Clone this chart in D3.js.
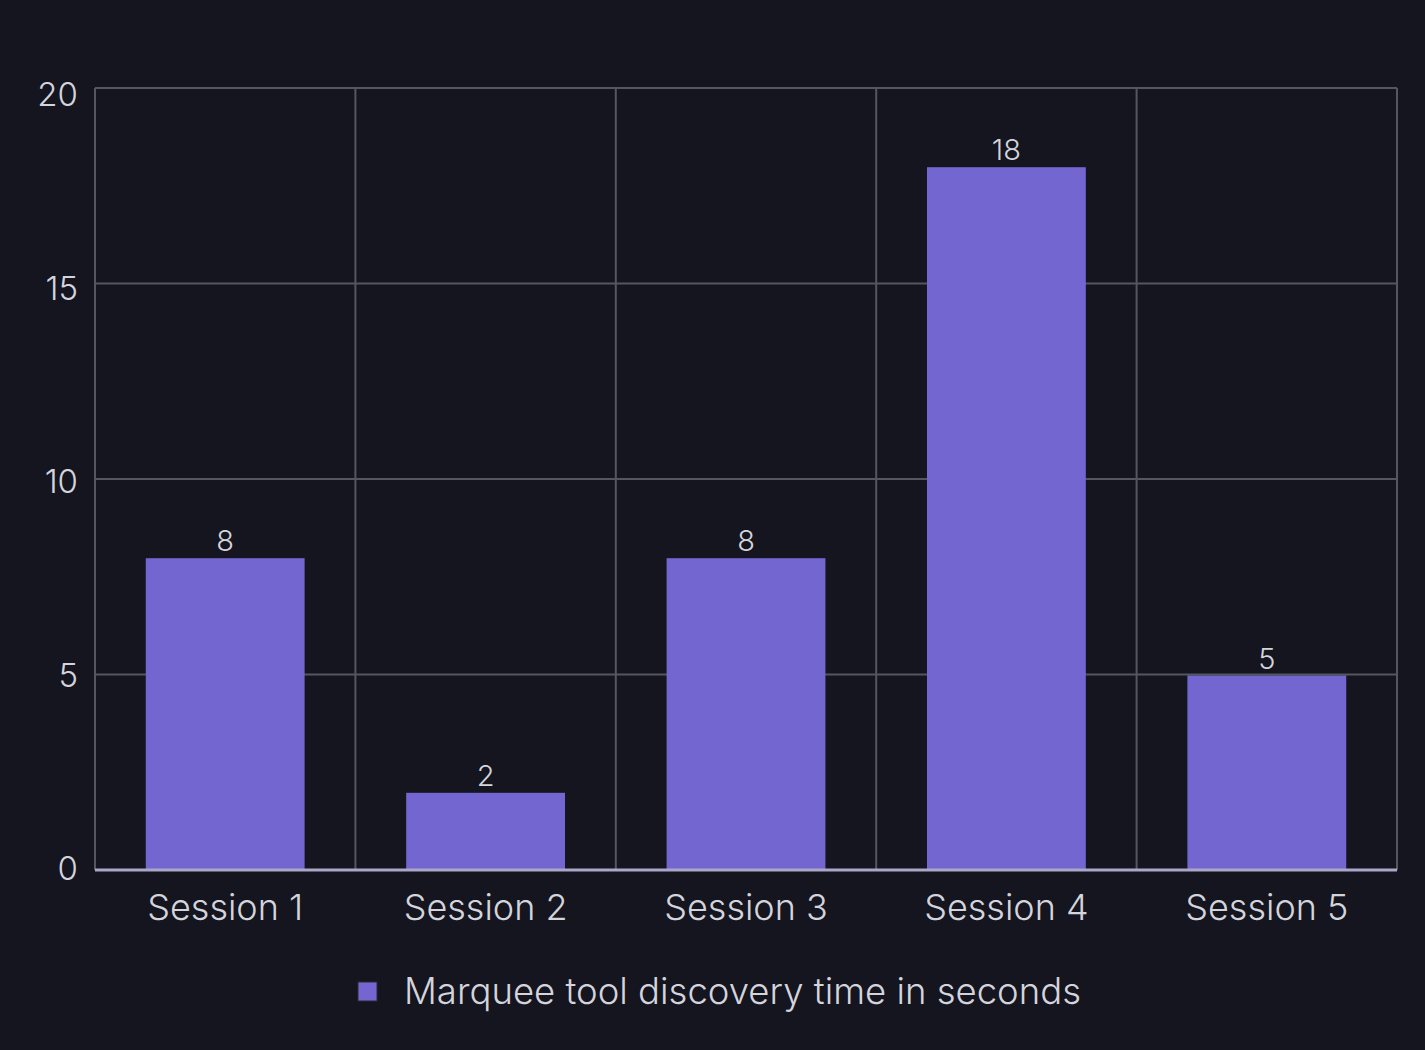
<!DOCTYPE html>
<html>
<head>
<meta charset="utf-8">
<script src="https://cdn.jsdelivr.net/npm/d3@7"></script>
<style>
  html, body { margin: 0; padding: 0; background: #14151f; }
  svg { display: block; font-family: Inter, "Noto Sans", sans-serif; font-weight: 300; }
</style>
</head>
<body>
<div id="graph"></div>
<script>
// chart data
const sessions = ["Session 1", "Session 2", "Session 3", "Session 4", "Session 5"];
const discoveryTimes = [8, 2, 8, 18, 5];
const yTicks = [0, 5, 10, 15, 20];
const seriesName = "Marquee tool discovery time in seconds";

const width = 1425, height = 1050;
const margins = {top: 88, right: 28, bottom: 180, left: 95};
const plotW = width - margins.left - margins.right;
const plotH = height - margins.top - margins.bottom;
const textColor = "#d4d4dc";

const svg = d3.select("#graph").append("svg")
  .attr("width", width)
  .attr("height", height);

svg.append("rect").attr("width", width).attr("height", height).attr("fill", "#14151f");

const g = svg.append("g")
  .attr("transform", "translate(" + margins.left + "," + margins.top + ")");

const x = d3.scaleBand().domain(sessions).range([0, plotW]);
const y = d3.scaleLinear().domain([0, 20]).range([plotH, 0]);

const gridColor = "#56565f";

// horizontal grid lines
g.selectAll(".hgrid")
  .data(yTicks)
  .enter().append("line")
    .attr("x1", 0).attr("x2", plotW)
    .attr("y1", d => y(d)).attr("y2", d => y(d))
    .attr("stroke", gridColor).attr("stroke-width", 2);

// vertical grid lines on band edges
const edges = sessions.map(s => x(s)).concat([plotW]);
g.selectAll(".vgrid")
  .data(edges)
  .enter().append("line")
    .attr("x1", d => d).attr("x2", d => d)
    .attr("y1", 0).attr("y2", plotH)
    .attr("stroke", gridColor).attr("stroke-width", 2);

// bars
const barW = x.bandwidth() * 0.61;
g.selectAll(".bar")
  .data(sessions)
  .enter().append("rect")
    .attr("x", (d) => x(d) + (x.bandwidth() - barW) / 2)
    .attr("y", (d, i) => y(discoveryTimes[i]) + 1)
    .attr("width", barW)
    .attr("height", (d, i) => plotH - y(discoveryTimes[i]) - 1)
    .attr("fill", "#7366d1");

// value labels
g.selectAll(".val")
  .data(sessions)
  .enter().append("text")
    .attr("x", d => x(d) + x.bandwidth() / 2)
    .attr("y", (d, i) => y(discoveryTimes[i]) - 6)
    .attr("text-anchor", "middle")
    .attr("fill", textColor)
    .attr("font-size", 29)
    .text((d, i) => discoveryTimes[i]);

// baseline
g.append("line")
  .attr("x1", 0).attr("x2", plotW)
  .attr("y1", plotH).attr("y2", plotH)
  .attr("stroke", "#a9a7c9").attr("stroke-width", 3);

// y axis labels (spread a little inside the plot like the original)
const yLabel = d3.scaleLinear().domain([0, 20]).range([plotH - 1, 7]);
const yAxis = g.append("g").call(d3.axisLeft(yLabel).tickValues(yTicks).tickSize(0).tickPadding(17));
yAxis.select(".domain").remove();
yAxis.selectAll("text").attr("fill", textColor).attr("font-size", 33)
  .attr("font-family", "Inter, 'Noto Sans', sans-serif").attr("font-weight", 300);

// x axis labels
const xAxis = g.append("g")
  .attr("transform", "translate(0," + plotH + ")")
  .call(d3.axisBottom(x).tickSize(0).tickPadding(24));
xAxis.select(".domain").remove();
xAxis.selectAll("text").attr("fill", textColor).attr("font-size", 36)
  .attr("font-family", "Inter, 'Noto Sans', sans-serif").attr("font-weight", 300);

// legend
const legend = svg.append("g").attr("transform", "translate(358,982)");
legend.append("rect")
  .attr("width", 19).attr("height", 19)
  .attr("fill", "#7366d1").attr("stroke", "#2a2a3a").attr("stroke-width", 1);
legend.append("text")
  .attr("x", 46).attr("y", 22)
  .attr("fill", textColor).attr("font-size", 36.5)
  .text(seriesName);
</script>
</body>
</html>
